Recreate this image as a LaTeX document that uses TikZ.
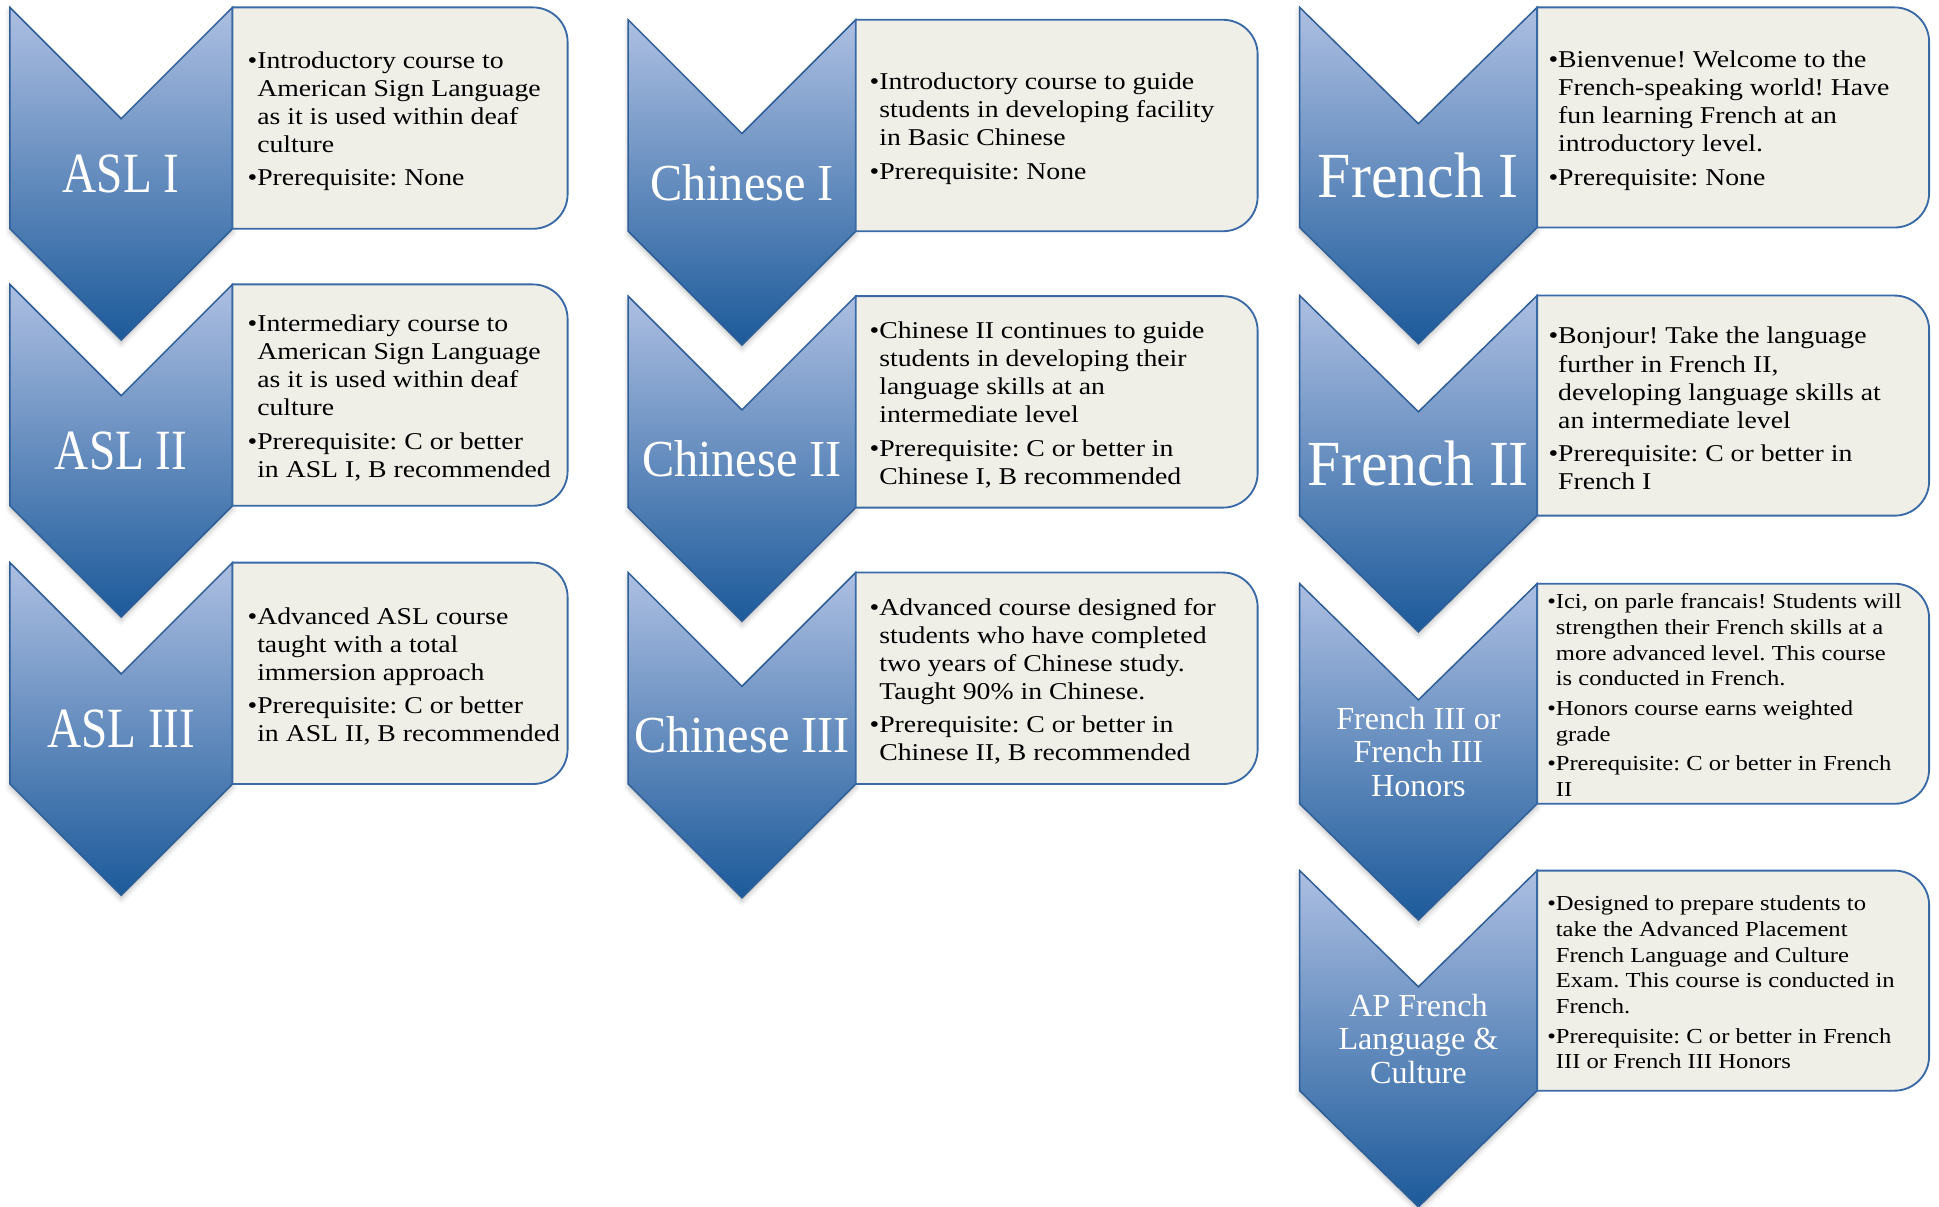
\documentclass[tikz,border=0pt]{standalone}
\usepackage{fontspec}
\usepackage{graphicx}
\setmainfont{Liberation Serif}
\newfontfamily\boxfont[FakeStretch=1.15]{Liberation Serif}
\usetikzlibrary{shadows.blur}
\definecolor{chevTop}{HTML}{ADBFE2}
\definecolor{chevBot}{HTML}{1C5A9A}
\definecolor{chevLine}{HTML}{2E5E98}
\definecolor{boxFill}{HTML}{EFEFE8}
\definecolor{boxLine}{HTML}{3A6AA6}
\frenchspacing
\tikzset{
  chevstyle/.style={top color=chevTop, bottom color=chevBot, draw=chevLine, line width=1.2pt, line join=miter,
    blur shadow={shadow xshift=0pt, shadow yshift=-3pt, shadow opacity=25, shadow blur radius=4pt}},
  boxstyle/.style={fill=boxFill, draw=boxLine, line width=1.5pt},
  biglabel/.style={text=white, inner sep=0pt, font=\fontsize{46}{50}\selectfont},
  frlabel/.style={text=white, inner sep=0pt, font=\fontsize{52}{56}\selectfont},
  smalllabel/.style={text=white, inner sep=0pt, align=center, font=\fontsize{26}{27}\selectfont},
  infotext/.style={anchor=west, inner sep=0pt, align=left, text=black, font=\boxfont\fontsize{19.5}{22.7}\selectfont\frenchspacing},
  infosmall/.style={anchor=west, inner sep=0pt, align=left, text=black, font=\boxfont\fontsize{17.3}{20.8}\selectfont\frenchspacing},
}
\newcommand\hg{\hphantom{\textbullet}}
% xl, yt, w, body, depth
\newcommand\chevshape[5]{%
  \shadedraw[chevstyle] (#1,#2) -- ({#1+#3/2},{#2+#5}) -- ({#1+#3},#2) -- ({#1+#3},{#2+#4})
    -- ({#1+#3/2},{#2+#4+#5}) -- (#1,{#2+#4}) -- cycle;}
% xl, yt, xr, yb, r
\newcommand\infoshape[5]{%
  \filldraw[boxstyle] (#1,#2) -- ({#3-#5},#2) arc[start angle=90,end angle=0,radius=#5pt]
    -- (#3,{#4-#5}) arc[start angle=0,end angle=-90,radius=#5pt] -- (#1,#4) -- cycle;}
\begin{document}
\begin{tikzpicture}[x=1pt,y=-1pt]
\useasboundingbox (0,0) rectangle (1568,976);
% ---------------- ASL column ----------------
\chevshape{8}{6}{180}{179}{90}
\infoshape{188}{6}{459}{185}{28}
\node[biglabel] (asl1) at (98,140.5) {\scalebox{0.83}[1]{ASL I}};
\node[infotext] (asl1t) at (200,98) {\textbullet Introductory course to\\\hg American Sign Language\\\hg as it is used within deaf\\\hg culture\\[4.5pt]\textbullet Prerequisite: None};
\chevshape{8}{230}{180}{179}{90}
\infoshape{188}{230}{459}{409}{28}
\node[biglabel] (asl2) at (98,364.5) {\scalebox{0.83}[1]{ASL II}};
\node[infotext] (asl2t) at (200,322) {\textbullet Intermediary course to\\\hg American Sign Language\\\hg as it is used within deaf\\\hg culture\\[4.5pt]\textbullet Prerequisite: C or better\\\hg in ASL I, B recommended};
\chevshape{8}{455}{180}{179}{90}
\infoshape{188}{455}{459}{634}{28}
\node[biglabel] (asl3) at (98,589.5) {\scalebox{0.83}[1]{ASL III}};
\node[infotext] (asl3t) at (200,547) {\textbullet Advanced ASL course\\\hg taught with a total\\\hg immersion approach\\[4.5pt]\textbullet Prerequisite: C or better\\\hg in ASL II, B recommended};
% ---------------- Chinese column ----------------
\chevshape{508}{16}{184}{171}{92}
\infoshape{692}{16}{1017}{187}{28}
\node[biglabel, font=\fontsize{42}{46}\selectfont] (ch1) at (600,147.5) {\scalebox{0.93}[1]{Chinese I}};
\node[infotext] (ch1t) at (703,104) {\textbullet Introductory course to guide\\\hg students in developing facility\\\hg in Basic Chinese\\[4.5pt]\textbullet Prerequisite: None};
\chevshape{508}{239.5}{184}{171}{92}
\infoshape{692}{239.5}{1017}{410.5}{28}
\node[biglabel, font=\fontsize{42}{46}\selectfont] (ch2) at (600,371) {\scalebox{0.93}[1]{Chinese II}};
\node[infotext] (ch2t) at (703,327.5) {\textbullet Chinese II continues to guide\\\hg students in developing their\\\hg language skills at an\\\hg intermediate level\\[4.5pt]\textbullet Prerequisite: C or better in\\\hg Chinese I, B recommended};
\chevshape{508}{463}{184}{171}{92}
\infoshape{692}{463}{1017}{634}{28}
\node[biglabel, font=\fontsize{42}{46}\selectfont] (ch3) at (600,594.5) {\scalebox{0.93}[1]{Chinese III}};
\node[infotext] (ch3t) at (703,551) {\textbullet Advanced course designed for\\\hg students who have completed\\\hg two years of Chinese study.\\\hg Taught 90\% in Chinese.\\[4.5pt]\textbullet Prerequisite: C or better in\\\hg Chinese II, B recommended};
% ---------------- French column ----------------
\chevshape{1051}{6}{192}{178}{94}
\infoshape{1243}{6}{1560}{184}{28}
\node[frlabel] (fr1) at (1147,142) {\scalebox{0.93}[1]{French I}};
\node[infotext] (fr1t) at (1252,97.5) {\textbullet Bienvenue! Welcome to the\\\hg French-speaking world! Have\\\hg fun learning French at an\\\hg introductory level.\\[4.5pt]\textbullet Prerequisite: None};
\chevshape{1051}{239}{192}{178}{94}
\infoshape{1243}{239}{1560}{417}{28}
\node[frlabel] (fr2) at (1147,375) {\scalebox{0.93}[1]{French II}};
\node[infotext] (fr2t) at (1252,330.5) {\textbullet Bonjour! Take the language\\\hg further in French II,\\\hg developing language skills at\\\hg an intermediate level\\[4.5pt]\textbullet Prerequisite: C or better in\\\hg French I};
\chevshape{1051}{472}{192}{178}{94}
\infoshape{1243}{472}{1560}{650}{28}
\node[smalllabel] (fr3) at (1147,608) {French III or\\French III\\Honors};
\node[infosmall] (fr3t) at (1251,562) {\textbullet Ici, on parle francais! Students will\\\hg strengthen their French skills at a\\\hg more advanced level. This course\\\hg is conducted in French.\\[3pt]\textbullet Honors course earns weighted\\\hg grade\\[3pt]\textbullet Prerequisite: C or better in French\\\hg II};
\chevshape{1051}{704}{192}{178}{94}
\infoshape{1243}{704}{1560}{882}{28}
\node[smalllabel] (apfr) at (1147,840) {AP French\\Language \&\\Culture};
\node[infosmall] (apfrt) at (1251,794.5) {\textbullet Designed to prepare students to\\\hg take the Advanced Placement\\\hg French Language and Culture\\\hg Exam. This course is conducted in\\\hg French.\\[3pt]\textbullet Prerequisite: C or better in French\\\hg III or French III Honors};
\end{tikzpicture}
\end{document}
